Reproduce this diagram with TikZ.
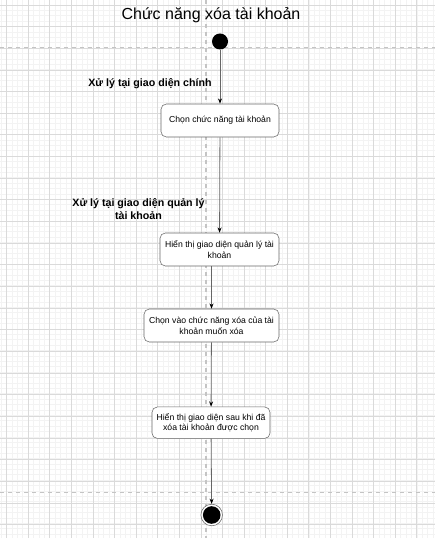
\documentclass[tikz,border=0pt]{standalone}
\usepackage{fontspec}
\setmainfont{Liberation Sans}
\usepackage{tikz}
\usetikzlibrary{arrows.meta}
\definecolor{minorgrid}{HTML}{F3F3F3}
\definecolor{majorgrid}{HTML}{DADADA}
\definecolor{lanegray}{HTML}{C4C4C4}
\definecolor{edgegray}{HTML}{666666}

\begin{document}
\begin{tikzpicture}[x=0.75pt, y=-0.75pt,
	action/.style={draw=edgegray, fill=white, rounded corners=4pt, align=center, inner sep=0pt, minimum height=24.75pt, font=\fontsize{6.5}{8}\selectfont},
	lanelabel/.style={align=center, font=\bfseries\fontsize{8}{9.2}\selectfont},
	flow/.style={draw=edgegray, line width=0.6pt, -{Stealth[length=4pt,width=3pt,black]}},
	lane/.style={lanegray, line width=1.1pt, dash pattern=on 3pt off 3pt}]
\useasboundingbox (0,0) rectangle (435,538);
% grid
\draw[minorgrid, line width=0.7pt] \foreach \i in {0,...,80} {({1.3+5.4*\i},0) -- ++(0,538)};
\draw[minorgrid, line width=0.7pt] \foreach \i in {0,...,100} {(0,{-0.4+5.4*\i}) -- ++(435,0)};
\draw[majorgrid, line width=0.6pt] \foreach \i in {0,...,20} {({6.7+21.58*\i},0) -- ++(0,538)};
\draw[majorgrid, line width=0.6pt] \foreach \i in {0,...,24} {(0,{5+21.65*\i}) -- ++(435,0)};
% lanes
\draw[lane] (0,47.5) -- (435,47.5);
\draw[lane] (0,492.7) -- (435,492.7);
\draw[lane] (206,0) -- (206,538);

\node (title) at (211,15) {\fontsize{12}{14}\selectfont Chức năng xóa tài khoản};
\node[lanelabel] (lanemain) at (150,83.5) {Xử lý tại giao diện chính};
\node[lanelabel] (lanemanage) at (138.5,209) {Xử lý tại giao diện quản lý\\tài khoản};

\node[circle, fill=black, inner sep=0pt, minimum size=12pt] (start) at (220,41.5) {};
\node[action, minimum width=88.5pt] (act1) at (220,120.5) {Chọn chức năng tài khoản};
\node[action, minimum width=89.25pt] (act2) at (219.5,249.5) {Hiển thị giao diện quản lý tài\\khoản};
\node[action, minimum width=101.25pt] (act3) at (211.5,325.5) {Chọn vào chức năng xóa của tài\\khoản muốn xóa};
\node[action, minimum width=88.5pt, minimum height=23.6pt] (act4) at (211,422.7) {Hiển thị giao diện sau khi đã\\xóa tài khoản được chọn};
\node[circle, draw=edgegray, fill=white, inner sep=0pt, minimum size=16.2pt,
	path picture={\fill[black] (path picture bounding box.center) circle (6.6pt);}] (finish) at (211.7,515) {};
\coordinate (act2out) at (act2.south -| act3);

\path
(start) edge[flow] (act1)
(act1) edge[flow] (act2)
(act2out) edge[flow] (act3)
(act3) edge[flow] (act4)
(act4) edge[flow] (finish)
;
\end{tikzpicture}
\end{document}
